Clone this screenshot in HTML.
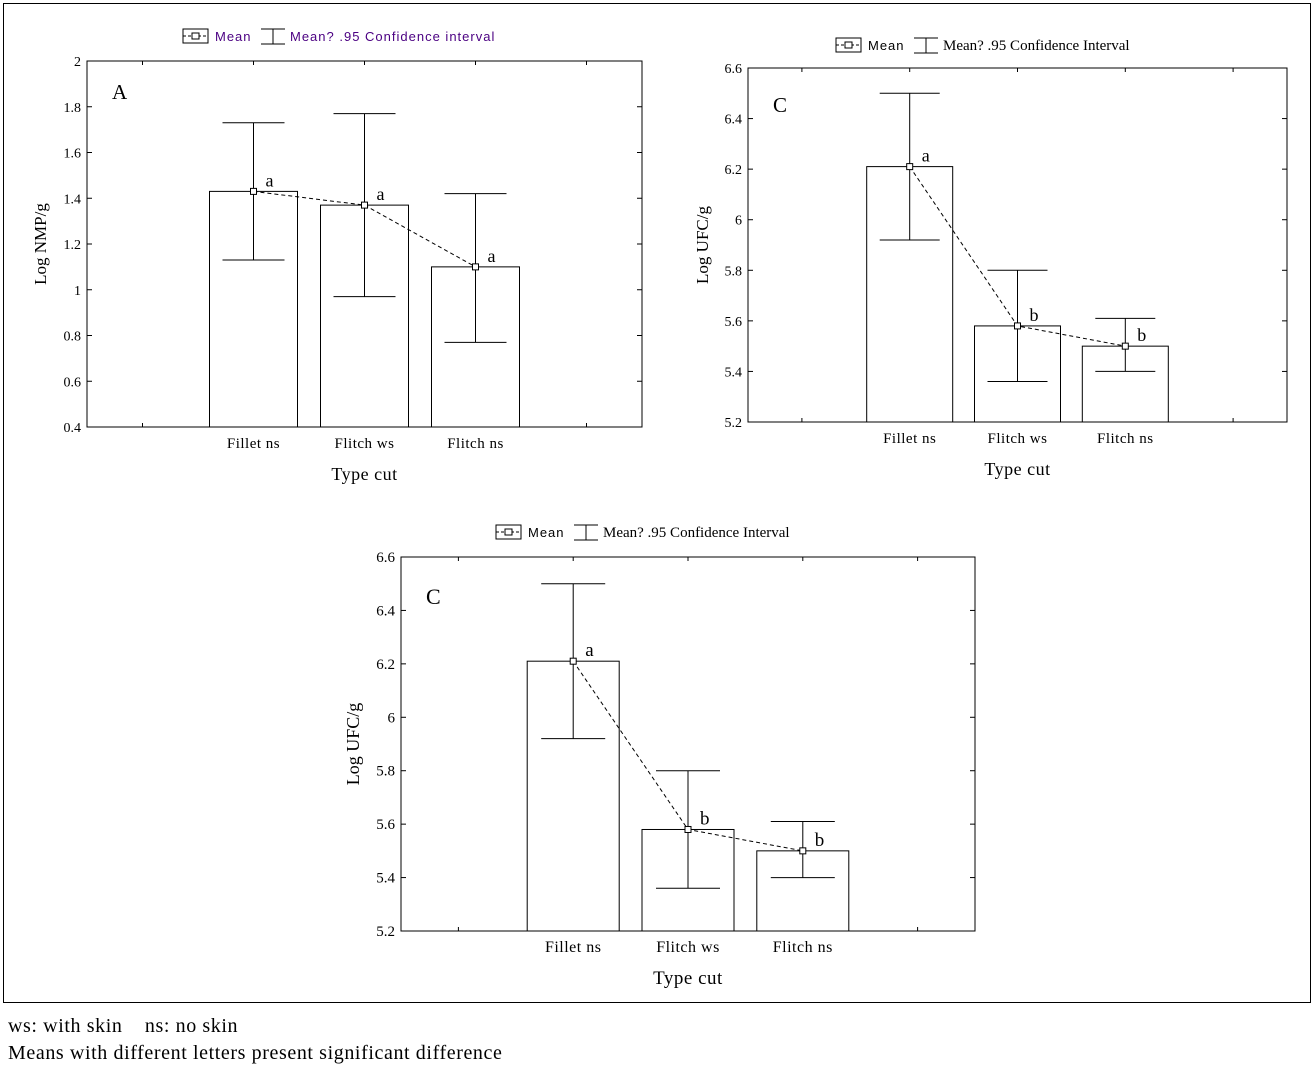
<!DOCTYPE html>
<html><head><meta charset="utf-8"><style>
body{margin:0;background:#fff;width:1316px;height:1069px;overflow:hidden;font-family:"Liberation Serif",serif}
.foot{position:absolute;left:8px;font-size:20px;letter-spacing:0.6px;color:#000;font-family:"Liberation Serif",serif}
</style></head><body>
<svg id="chart" width="1316" height="1069" style="position:absolute;left:0;top:0;font-family:'Liberation Serif',serif">
<rect x="3.5" y="3.5" width="1307" height="999" fill="none" stroke="#000" stroke-width="1"/>
</svg>
<div class="foot" style="top:1015px">ws: with skin &nbsp;&nbsp;&nbsp;ns: no skin</div>
<div class="foot" style="top:1042px">Means with different letters present significant difference</div>
<script>
const categories = ["Fillet ns","Flitch ws","Flitch ns"];
const meansA = [1.43,1.37,1.10];
const lowA = [1.13,0.97,0.77];
const highA = [1.73,1.77,1.42];
const lettersA = ["a","a","a"];
const ticksA = ["0.4","0.6","0.8","1","1.2","1.4","1.6","1.8","2"];
const meansC = [6.21,5.58,5.50];
const lowC = [5.92,5.36,5.40];
const highC = [6.50,5.80,5.61];
const lettersC = ["a","b","b"];
const ticksC = ["5.2","5.4","5.6","5.8","6","6.2","6.4","6.6"];

const svg=document.getElementById('chart');
const NS='http://www.w3.org/2000/svg';
function mk(tag,attrs,parent){const e=document.createElementNS(NS,tag);for(const k in attrs)e.setAttribute(k,attrs[k]);(parent||svg).appendChild(e);return e;}

function drawChart(cfg,means,low,high,letters,ticks){
  const g=mk('g',{});
  
  
  const {x0,x1,y0,y1}=cfg;
  const tv=ticks.map(Number);
  const vmin=tv[0],vmax=tv[tv.length-1];
  const yS=v=>y1-(v-vmin)/(vmax-vmin)*(y1-y0);
  const slot=(x1-x0)/5;
  const xS=i=>x0+slot*(i+1.5);
  const bw=cfg.bw;
  const box=mk('rect',{x:x0,y:y0,width:x1-x0,height:y1-y0,fill:'none',stroke:'#000','stroke-width':1},g);
  
  
  tv.forEach((v,i)=>{
    const y=yS(v);
    mk('line',{x1:x0,x2:x0+5,y1:y,y2:y,stroke:'#000'},g);
    mk('line',{x1:x1,x2:x1-5,y1:y,y2:y,stroke:'#000'},g);
    const t=mk('text',{x:x0-6,y:y+5,'text-anchor':'end','font-size':cfg.fs},g);
    t.textContent=ticks[i];
    
    
  });
  for(let k=0;k<5;k++){const x=x0+slot*(k+0.5);
    mk('line',{x1:x,x2:x,y1:y1,y2:y1-4,stroke:'#000'},g);
    mk('line',{x1:x,x2:x,y1:y0,y2:y0+4,stroke:'#000'},g);}
  means.forEach((m,i)=>{
    const b=mk('rect',{x:xS(i)-bw/2,y:yS(m),width:bw,height:y1-yS(m),fill:'#fff',stroke:'#000'},g);
    
    
  });
  const pl=mk('polyline',{points:means.map((m,i)=>xS(i)+','+yS(m)).join(' '),fill:'none',stroke:'#000','stroke-dasharray':'4,3'},g);
  
  
  means.forEach((m,i)=>{
    const x=xS(i),cw=cfg.cw;
    const eb=mk('g',{},g);
    
    
    mk('line',{x1:x,x2:x,y1:yS(low[i]),y2:yS(high[i]),stroke:'#000'},eb);
    mk('line',{x1:x-cw,x2:x+cw,y1:yS(low[i]),y2:yS(low[i]),stroke:'#000'},eb);
    mk('line',{x1:x-cw,x2:x+cw,y1:yS(high[i]),y2:yS(high[i]),stroke:'#000'},eb);
    const p=mk('rect',{x:x-3,y:yS(m)-3,width:6,height:6,fill:'#fff',stroke:'#000'},g);
    
    
    const l=mk('text',{x:x+12,y:yS(m)-5,'font-size':cfg.fs+4,'text-anchor':'start'},g);
    l.textContent=letters[i];
    
    
    const c=mk('text',{x:x,y:y1+21,'text-anchor':'middle','font-size':cfg.fs+1,'letter-spacing':'0.5'},g);
    c.textContent=categories[i];
    
    
  });
  const xt=mk('text',{x:(x0+x1)/2,y:y1+53,'text-anchor':'middle','font-size':cfg.fs+4,'letter-spacing':'0.5'},g);
  xt.textContent='Type cut';
  
  
  const yt=mk('text',{x:0,y:0,'text-anchor':'middle','font-size':cfg.fs+3,transform:`translate(${cfg.ytx},${(y0+y1)/2}) rotate(-90)`},g);
  yt.textContent=cfg.ytitle;
  
  
  const pt=mk('text',{x:x0+25,y:y0+cfg.py,'font-size':cfg.fs+7},g);
  pt.textContent=cfg.panel;
  
  
  const lg=mk('g',{},g);
  
  
  const lx=cfg.lx,ly=cfg.ly;
  mk('rect',{x:lx,y:ly-7,width:25,height:14,fill:'#fff',stroke:'#000'},lg);
  mk('line',{x1:lx,x2:lx+25,y1:ly,y2:ly,stroke:'#000','stroke-dasharray':'3,2'},lg);
  mk('rect',{x:lx+9,y:ly-3,width:7,height:6,fill:'#fff',stroke:'#000'},lg);
  const serifLeg=cfg.legSerif;
  const t1=mk('text',{x:lx+32,y:ly+5,'font-size':13,fill:serifLeg?'#000':'#4b0082','letter-spacing':'1',style:'font-family:"Liberation Sans",sans-serif'},lg);
  t1.textContent='Mean';
  const ex=lx+78;
  mk('line',{x1:ex,x2:ex+24,y1:ly-7,y2:ly-7,stroke:'#000'},lg);
  mk('line',{x1:ex,x2:ex+24,y1:ly+8,y2:ly+8,stroke:'#000'},lg);
  mk('line',{x1:ex+12,x2:ex+12,y1:ly-7,y2:ly+8,stroke:'#000'},lg);
  const t2=mk('text',{x:ex+29,y:ly+5,'font-size':serifLeg?15:13,fill:serifLeg?'#000':'#4b0082','letter-spacing':serifLeg?'0':'1',style:serifLeg?'font-family:"Liberation Serif",serif':'font-family:"Liberation Sans",sans-serif'},lg);
  t2.textContent=cfg.legText;
}
drawChart({name:'chart-a',x0:87,x1:642,y0:61,y1:427,bw:88,cw:31,fs:14,ytx:46,ytitle:'Log NMP/g',panel:'A',py:38,lx:183,ly:36,legText:'Mean?  .95 Confidence interval',legSerif:false},meansA,lowA,highA,lettersA,ticksA);
drawChart({name:'chart-c-top',x0:748,x1:1287,y0:68,y1:422,bw:86,cw:30,fs:14,ytx:708,ytitle:'Log UFC/g',panel:'C',py:44,lx:836,ly:45,legText:'Mean?  .95 Confidence Interval',legSerif:true},meansC,lowC,highC,lettersC,ticksC);
drawChart({name:'chart-c-bottom',x0:401,x1:975,y0:557,y1:931,bw:92,cw:32,fs:15,ytx:359,ytitle:'Log UFC/g',panel:'C',py:47,lx:496,ly:532,legText:'Mean?  .95 Confidence Interval',legSerif:true},meansC,lowC,highC,lettersC,ticksC);
</script>
</body></html>
